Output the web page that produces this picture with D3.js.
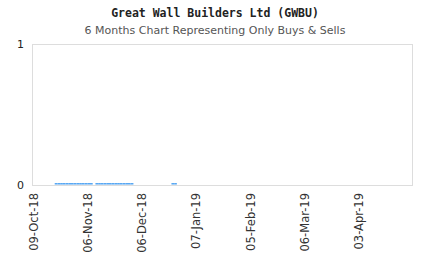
<!DOCTYPE html>
<html><head><meta charset="utf-8">
<script src="https://cdn.jsdelivr.net/npm/d3@7"></script>
<style>body{margin:0;background:#fff}svg{display:block}</style>
</head><body>
<script>
const title = "Great Wall Builders Ltd (GWBU)";
const subtitle = "6 Months Chart Representing Only Buys & Sells";
const tickIndex = [0, 20, 40, 60, 80, 100, 120];
const tickLabels = ["09-Oct-18","06-Nov-18","06-Dec-18","07-Jan-19","05-Feb-19","06-Mar-19","03-Apr-19"];
const totalDays = 140;
const tradeDays = [8,9,10,11,12,13,14,15,16,17,18,19,20,21, 23,24,25,26,27,28,29,30,31,32,33,34,35,36, 51,52];
const tradeValues = [0.01,0.01,0.01,0.01,0.01,0.01,0.01,0.01,0.01,0.01,0.01,0.01,0.01,0.01, 0.01,0.01,0.01,0.01,0.01,0.01,0.01,0.01,0.01,0.01,0.01,0.01,0.01,0.01, 0.01,0.01];
const yTicks = [0, 1];

const W = 430, H = 260;
const m = {l: 32, r: 17, t: 44, b: 75};
const svg = d3.select("body").append("svg").attr("width", W).attr("height", H);
const x = d3.scaleLinear().domain([0, totalDays]).range([m.l + 1, W - m.r]);
const y = d3.scaleLinear().domain([0, 1]).range([H - m.b, m.t]);

svg.append("text").attr("x", 215).attr("y", 17).attr("text-anchor", "middle")
  .attr("font-family", "DejaVu Sans Mono").attr("font-weight", "bold").attr("font-size", 11.5)
  .attr("fill", "#222").text(title);
svg.append("text").attr("x", 215).attr("y", 34).attr("text-anchor", "middle")
  .attr("font-family", "DejaVu Sans").attr("font-size", 11)
  .attr("fill", "#555").text(subtitle);

// frame
svg.append("rect").attr("x", m.l + 0.5).attr("y", m.t + 0.5)
  .attr("width", W - m.r - m.l - 1).attr("height", H - m.b - m.t)
  .attr("fill", "none").attr("stroke", "#ddd");

// bars
const bw = x(1) - x(0);
svg.append("g").selectAll("rect").data(tradeDays).join("rect")
  .attr("x", d => x(d)).attr("width", bw)
  .attr("y", (d, i) => y(tradeValues[i]) - 0.5)
  .attr("height", (d, i) => y(0) - y(tradeValues[i]))
  .attr("fill", "#4aa0f2");

// y axis
const ya = svg.append("g").attr("transform", `translate(${m.l},0)`)
  .call(d3.axisLeft(y).tickValues(yTicks).tickFormat(d3.format("d")).tickSize(0).tickPadding(8));
ya.select(".domain").remove();
ya.selectAll("text").attr("font-family", "DejaVu Sans").attr("font-size", 11).attr("fill", "#222");

// x axis
const xa = svg.append("g").attr("transform", `translate(0,${H - m.b})`)
  .call(d3.axisBottom(x).tickValues(tickIndex).tickFormat((d, i) => tickLabels[i]).tickSize(0).tickPadding(8));
xa.select(".domain").remove();
xa.selectAll("text").attr("font-family", "DejaVu Sans").attr("font-size", 11.5).attr("fill", "#333")
  .attr("text-anchor", "end").attr("transform", "rotate(-90)")
  .attr("x", -8).attr("y", 0).attr("dy", "0.35em");
</script>
</body></html>
